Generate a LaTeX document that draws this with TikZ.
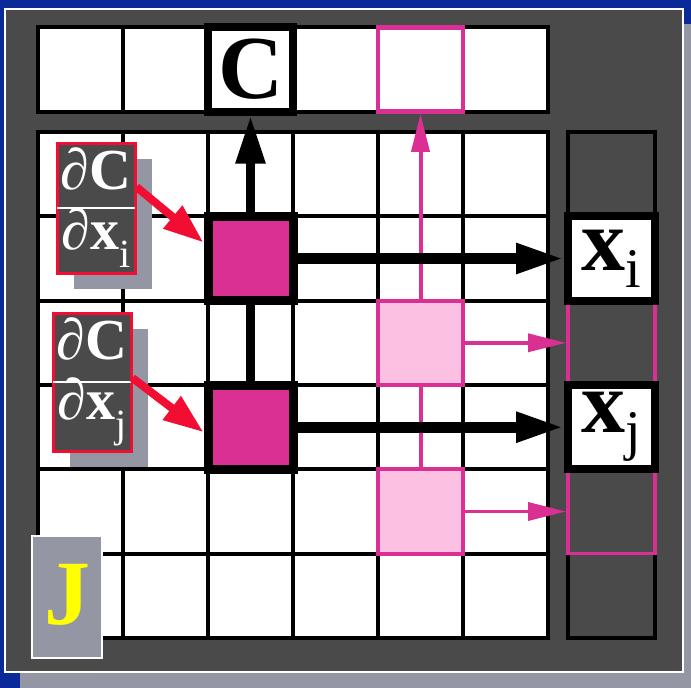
\documentclass[tikz,border=0pt]{standalone}
\usepackage{fontspec}
\setmainfont{Liberation Serif}
\usetikzlibrary{arrows.meta,shadows,calc}
\definecolor{bgblue}{HTML}{0B2A99}
\definecolor{panelgray}{HTML}{4A4A4A}
\definecolor{shadegray}{HTML}{9497A3}
\definecolor{magenta}{HTML}{DB3093}
\definecolor{lightpink}{HTML}{FBC0E2}
\definecolor{arrowred}{HTML}{F20D32}
\definecolor{jyellow}{HTML}{FFFF00}
\begin{document}
\begin{tikzpicture}[x=1pt, y=-1pt,
  gridline/.style={draw=black, line width=4pt},
  cell/.style={draw, rectangle, inner sep=0pt, minimum width=85pt, minimum height=84.3pt},
  blackbox/.style={cell, line width=8pt, fill=white, font=\fontsize{90}{90}\selectfont\bfseries},
  hotsq/.style={cell, line width=9pt, fill=magenta},
  pinksq/.style={cell, draw=magenta, line width=4pt, fill=lightpink},
  deriv/.style={draw=arrowred, rectangle, line width=3pt, fill=panelgray, text=white, inner sep=0pt,
    minimum width=78pt, align=center, font=\fontsize{58}{60}\selectfont,
    drop shadow={shadow xshift=17pt, shadow yshift=-16pt, fill=shadegray, opacity=1}},
  pinkline/.style={draw=magenta, line width=4pt},
  >=Triangle
]
% frame
\fill[bgblue] (0,0) rectangle (691,688);
\fill[shadegray] (20,24) rectangle (691,688);
\draw[white, line width=2.5pt, fill=panelgray] (5.2,9.2) rectangle (683,672);
\useasboundingbox (0,0) rectangle (691,688);
% top row
\draw[gridline, fill=white] (38,27) rectangle (548,112);
\foreach \i in {1,...,5} \draw[gridline] ({38+85*\i},27) -- ({38+85*\i},112);
% main grid
\draw[gridline, fill=white] (38,132) rectangle (548,638);
\foreach \i in {1,...,5} {
  \draw[gridline] ({38+85*\i},132) -- ({38+85*\i},638);
  \draw[gridline] (38,{132+84.33*\i}) -- (548,{132+84.33*\i});
}
% right column
\node[draw, rectangle, line width=4pt, fill=panelgray, minimum width=87pt, minimum height=506pt, inner sep=0pt] (col) at (611.5,385) {};
\draw[pinkline, line width=3.5pt] (568,300.7) rectangle (655,553.7);
\node[blackbox, minimum width=87pt, font=\fontsize{88}{88}\selectfont] (xi) at (611.5,258.5)
  {\textbf{x}\raisebox{-17pt}{\fontsize{56}{56}\selectfont i}};
\node[blackbox, minimum width=87pt, font=\fontsize{88}{88}\selectfont] (xj) at (611.5,427.2)
  {\textbf{x}\raisebox{-17pt}{\fontsize{56}{56}\selectfont j}};
% cells
\node[blackbox] (cbox) at (250.5,69.5) {C};
\node[cell, draw=magenta, line width=4.5pt, fill=white] (ptop) at (420.5,69.5) {};
\node[hotsq] (sqi) at (250.5,258.5) {};
\node[hotsq] (sqj) at (250.5,427.2) {};
\node[pinksq] (lpi) at (420.5,342.8) {};
\node[pinksq] (lpj) at (420.5,511.5) {};
% connectors
\draw[pinkline, -{Triangle[length=38pt, width=18pt]}] (lpi.north) -- (ptop.south);
\draw[pinkline] (lpi.south) -- (lpj.north);
\draw[magenta, line width=3.5pt, -{Triangle[length=38pt, width=18pt]}] (lpi.east) -- (lpi.east -| col.west);
\draw[magenta, line width=3.5pt, -{Triangle[length=38pt, width=18pt]}] (lpj.east) -- (lpj.east -| col.west);
\draw[line width=9pt, -{Triangle[length=48pt, width=28pt]}] (sqi.north) -- (cbox.south);
\draw[line width=9pt] (sqi.south) -- (sqj.north);
\draw[line width=11pt, -{Triangle[length=48pt, width=28pt]}] (sqi.east) -- (xi.west);
\draw[line width=11pt, -{Triangle[length=48pt, width=28pt]}] (sqj.east) -- (xj.west);
% derivative labels
\node[deriv, minimum height=130pt] (dci) at (96,208)
  {∂\textbf{C}\\∂\textbf{x}\raisebox{-18pt}{\fontsize{40}{40}\selectfont i}};
\node[deriv, minimum height=138pt] (dcj) at (92,382)
  {∂\textbf{C}\\∂\textbf{x}\raisebox{-18pt}{\fontsize{40}{40}\selectfont j}};
\draw[white, line width=2pt, shorten <=1.5pt, shorten >=1.5pt] (dci.west) -- (dci.east);
\draw[white, line width=2pt, shorten <=1.5pt, shorten >=1.5pt] (dcj.west) -- (dcj.east);
\draw[arrowred, line width=8pt, -{Triangle[length=40pt, width=28pt]}] ([yshift=21pt]dci.east) -- ([yshift=16pt]sqi.west);
\draw[arrowred, line width=8pt, -{Triangle[length=40pt, width=28pt]}] ([yshift=4pt]dcj.east) -- ([yshift=-5pt]sqj.west);
% J label
\node[draw=white, line width=2.5pt, fill=shadegray, minimum width=70pt, minimum height=122pt, inner sep=0pt,
  text=jyellow, font=\fontsize{92}{92}\selectfont\bfseries] (jlab) at (67,597) {\raisebox{5pt}{J}};
\end{tikzpicture}
\end{document}
